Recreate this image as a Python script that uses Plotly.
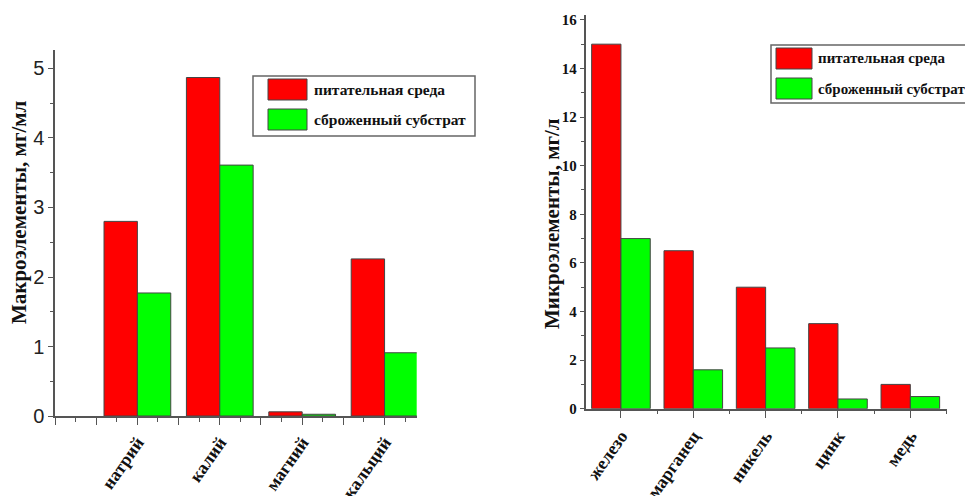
import plotly.graph_objects as go

# ---------------- data ----------------
series_names = ["питательная среда", "сброженный субстрат"]
series_colors = ["#ff0000", "#00ff00"]

macro_categories = ["", "натрий", "калий", "магний", "кальций"]
macro_nutrient = [None, 2.80, 4.87, 0.06, 2.26]
macro_fermented = [None, 1.77, 3.61, 0.025, 0.91]
macro_title = "Макроэлементы, мг/мл"

micro_categories = ["железо", "марганец", "никель", "цинк", "медь"]
micro_nutrient = [15.0, 6.5, 5.0, 3.5, 1.0]
micro_fermented = [7.0, 1.6, 2.5, 0.4, 0.5]
micro_title = "Микроэлементы, мг/л"

W, H = 965, 496


def px(x):
    return x / W


def py(y):
    return 1 - y / H


SERIF = "Liberation Serif, Times New Roman, serif"
AX = "#555555"

fig = go.Figure()

macro_x = list(range(len(macro_categories)))
micro_x = list(range(len(micro_categories)))

for vals, name, col in zip([macro_nutrient, macro_fermented], series_names, series_colors):
    fig.add_trace(go.Bar(x=macro_x, y=vals, name=name, marker=dict(color=col, line=dict(color="#444", width=1)),
                         xaxis="x", yaxis="y", showlegend=False))
for vals, name, col in zip([micro_nutrient, micro_fermented], series_names, series_colors):
    fig.add_trace(go.Bar(x=micro_x, y=vals, name=name, marker=dict(color=col, line=dict(color="#444", width=1)),
                         xaxis="x2", yaxis="y2", showlegend=False))

# tick arrays for left axis (major every half category, labels on categories)
macro_tickvals, macro_ticktext = [], []
for i, c in enumerate(macro_categories):
    macro_tickvals += [i, i + 0.5]
    macro_ticktext += [c, ""]

common_axis = dict(showline=True, linecolor=AX, linewidth=1.5, showgrid=False, zeroline=False,
                   ticks="outside", tickcolor=AX, tickwidth=1.2, automargin=False)

fig.update_layout(
    width=W, height=H,
    margin=dict(l=0, r=0, t=0, b=0),
    paper_bgcolor="white", plot_bgcolor="white",
    barmode="group", bargap=0.19, bargroupgap=0,
    xaxis=dict(**common_axis, domain=[px(55), px(416.7)], range=[0, 4.39], anchor="y",
               tickmode="array", tickvals=macro_tickvals, ticktext=macro_ticktext, ticklen=7,
               tickangle=-55, tickfont=dict(family=SERIF, size=18, color="#111", weight="bold"),
               minor=dict(ticks="outside", dtick=0.25, tick0=0, ticklen=4, tickcolor=AX, tickwidth=1.2)),
    yaxis=dict(**common_axis, domain=[py(416), py(50)], range=[0, 5.266], anchor="x",
               dtick=1, ticklen=5, tickfont=dict(family="Liberation Sans, Arial, sans-serif", size=20, color="#222"),
               minor=dict(ticks="outside", dtick=0.5, ticklen=3, tickcolor=AX, tickwidth=1.2)),
    xaxis2=dict(**common_axis, domain=[px(585.5), px(946.5)], range=[-0.49, 4.5], anchor="y2",
                tickmode="array", tickvals=micro_x, ticktext=micro_categories, ticklen=8,
                tickangle=-55, tickfont=dict(family=SERIF, size=18, color="#111", weight="bold"),
                minor=dict(ticks="outside", dtick=0.5, tick0=-0.5, ticklen=4, tickcolor=AX, tickwidth=1.2)),
    yaxis2=dict(**common_axis, domain=[py(408.7), py(15)], range=[0, 16.2], anchor="x2",
                dtick=2, ticklen=4, tickfont=dict(family=SERIF, size=15, color="#111", weight="bold"),
                minor=dict(ticks="outside", dtick=1, ticklen=3, tickcolor=AX, tickwidth=1.2)),
)

annotations = [
    dict(text=macro_title, x=px(19), y=py(212), textangle=-90, showarrow=False,
         xref="paper", yref="paper", xanchor="center", yanchor="middle",
         font=dict(family=SERIF, size=21, color="#111", weight="bold")),
    dict(text=micro_title, x=px(552), y=py(224), textangle=-90, showarrow=False,
         xref="paper", yref="paper", xanchor="center", yanchor="middle",
         font=dict(family=SERIF, size=21, color="#111", weight="bold")),
]
shapes = []

# custom legends (box + swatches + labels)
legend_boxes = [
    dict(box=(253, 76, 475, 136), sw_x=(268, 307), sw_y=[(79, 100), (109, 130)], tx=312, fs=15.5),
    dict(box=(771, 45, 1010, 103), sw_x=(776, 812), sw_y=[(48, 69), (78, 99)], tx=816, fs=15),
]
for lg in legend_boxes:
    x0, y0, x1, y1 = lg["box"]
    shapes.append(dict(type="rect", xref="paper", yref="paper", x0=px(x0), x1=px(x1), y0=py(y1), y1=py(y0),
                       line=dict(color="#666", width=1.5), fillcolor="white", layer="above"))
    for (sy0, sy1), name, col in zip(lg["sw_y"], series_names, series_colors):
        shapes.append(dict(type="rect", xref="paper", yref="paper", x0=px(lg["sw_x"][0]), x1=px(lg["sw_x"][1]),
                           y0=py(sy1), y1=py(sy0), line=dict(color="#444", width=1), fillcolor=col, layer="above"))
        annotations.append(dict(text=name, x=px(lg["tx"]), y=py((sy0 + sy1) / 2), xref="paper", yref="paper",
                                xanchor="left", yanchor="middle", showarrow=False,
                                font=dict(family=SERIF, size=lg["fs"], color="#111", weight="bold")))

fig.update_layout(annotations=annotations, shapes=shapes)
fig.write_html("out.html")
